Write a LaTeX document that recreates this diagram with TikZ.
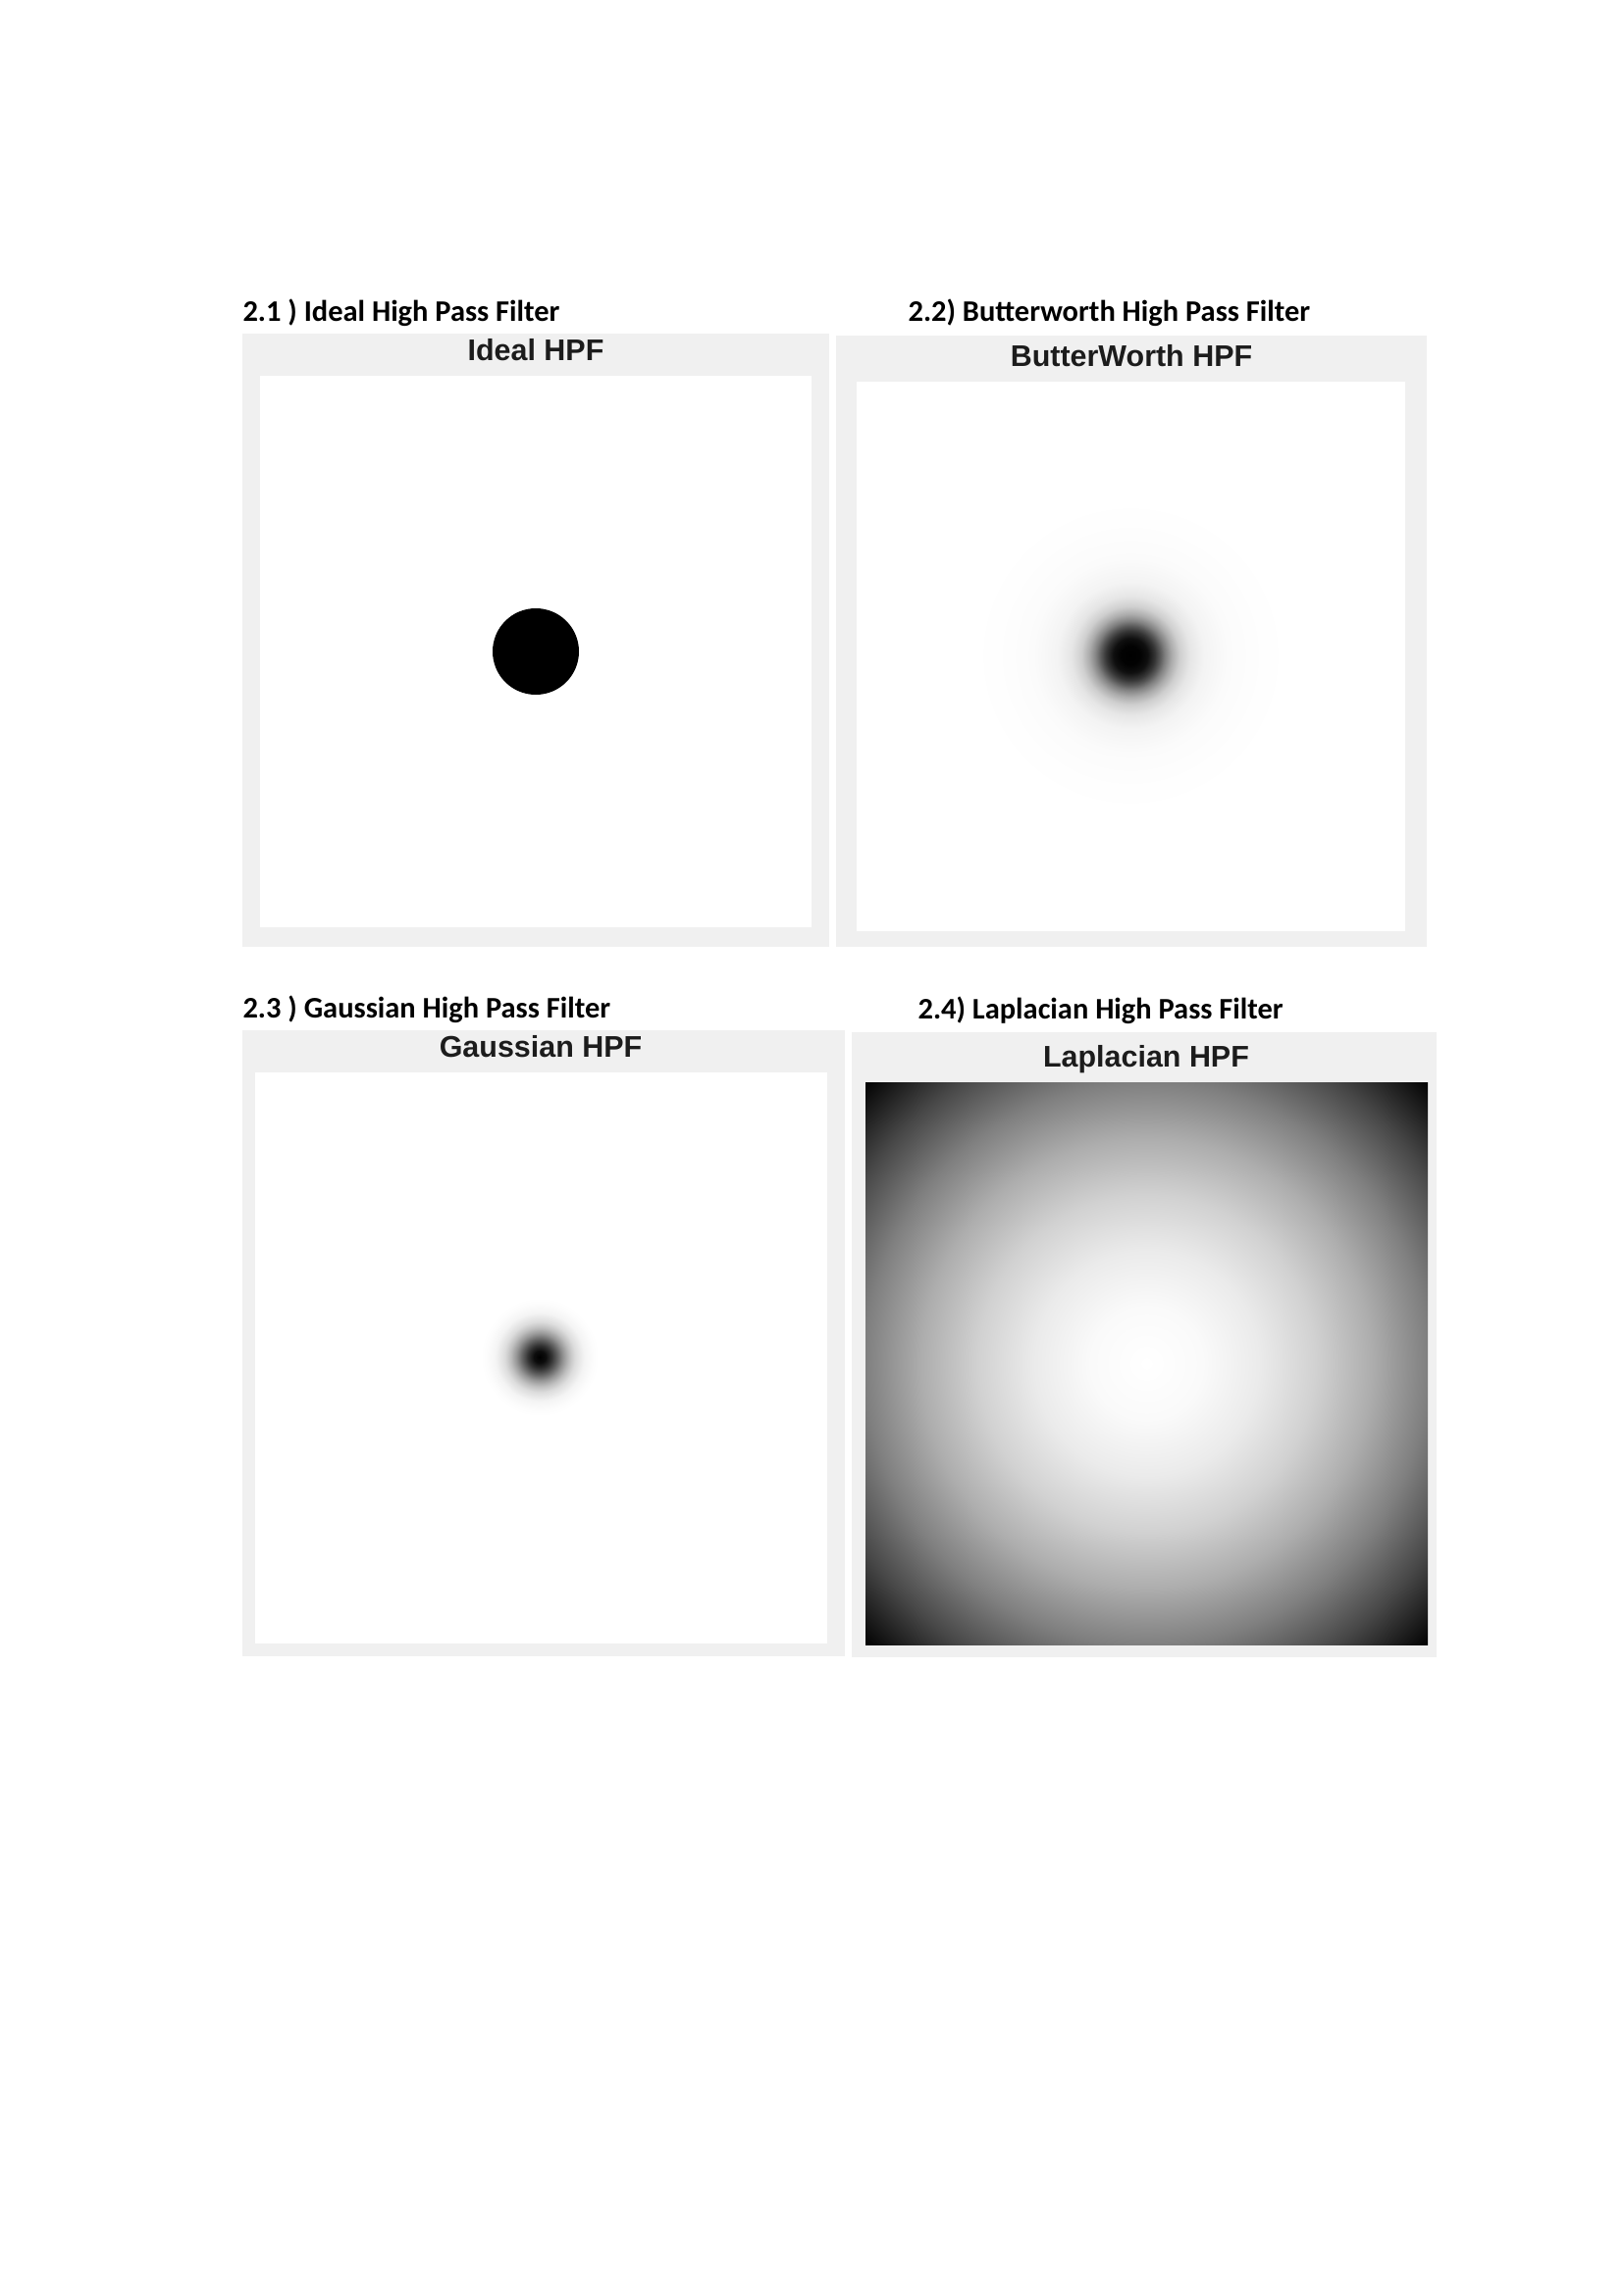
\documentclass[tikz,border=0pt]{standalone}
\usepackage{fontspec}
\newfontfamily\headfont{Carlito}
\newfontfamily\plotfont{Liberation Sans}
\usetikzlibrary{positioning}

\definecolor{panelgray}{RGB}{240,240,240}
\definecolor{titlegray}{RGB}{28,28,28}

% filter responses as radial shadings (25bp = half size of the shaded path)
\pgfdeclareradialshading{butterworthshade}{\pgfpoint{0bp}{0bp}}{%
  color(0bp)=(black); color(1.55bp)=(black!99); color(2.75bp)=(black!94);
  color(3.9bp)=(black!79); color(4.7bp)=(black!65); color(5.45bp)=(black!50);
  color(6.55bp)=(black!33); color(7.8bp)=(black!19); color(9.4bp)=(black!10);
  color(11.7bp)=(black!4.5); color(15.6bp)=(black!1.5); color(20.3bp)=(black!0.6);
  color(25bp)=(white); color(50bp)=(white)}
\pgfdeclareradialshading{gaussshade}{\pgfpoint{0bp}{0bp}}{%
  color(0bp)=(black); color(2.5bp)=(black!95); color(5bp)=(black!80);
  color(7.5bp)=(black!61); color(10bp)=(black!41); color(12.5bp)=(black!25);
  color(15bp)=(black!13.5); color(18.75bp)=(black!4.4); color(22.5bp)=(black!1.1);
  color(25bp)=(white); color(50bp)=(white)}
\pgfdeclareradialshading{laplaceshade}{\pgfpoint{0bp}{0bp}}{%
  color(0bp)=(white); color(5bp)=(black!2); color(10bp)=(black!8);
  color(15bp)=(black!18); color(20bp)=(black!32); color(25bp)=(black!50);
  color(30bp)=(black!72); color(35.5bp)=(black); color(50bp)=(black)}

\begin{document}
\begin{tikzpicture}[x=0.126965mm, y=-0.126965mm,
  heading/.style={anchor=base west, inner sep=0pt, font=\headfont\bfseries\fontsize{11}{13}\selectfont},
  plottitle/.style={anchor=base, inner sep=0pt, text=titlegray, font=\plotfont\bfseries\fontsize{11}{13}\selectfont},
  panel/.style={fill=panelgray},
  plotarea/.style={fill=white}
]
\useasboundingbox[fill=white] (0,0) rectangle (1654,2339);

% 2.1 ideal
\node[heading] (head1) at (247,327) {2.1 ) Ideal High Pass Filter};
\fill[panel] (247,340) rectangle (845,965);
\fill[plotarea] (265,383) rectangle (827,945);
\node[plottitle] (title1) at (546,367) {Ideal HPF};
\fill[black] (546,664) circle[radius=44];

% 2.2 butterworth
\node[heading] (head2) at (925,327) {2.2) Butterworth High Pass Filter};
\fill[panel] (852,342) rectangle (1454,965);
\fill[plotarea] (873,389) rectangle (1432,949);
\node[plottitle] (title2) at (1153,373) {ButterWorth HPF};
\shade[shading=butterworthshade] (1152,668) circle[radius=160];

% 2.3 gaussian
\node[heading] (head3) at (247,1037) {2.3 ) Gaussian High Pass Filter};
\fill[panel] (247,1050) rectangle (861,1688);
\fill[plotarea] (260,1093) rectangle (843,1675);
\node[plottitle] (title3) at (551,1077) {Gaussian HPF};
\shade[shading=gaussshade] (550,1383) circle[radius=60];

% 2.4 laplacian
\node[heading] (head4) at (935,1038) {2.4) Laplacian High Pass Filter};
\fill[panel] (868,1052) rectangle (1464,1689);
\node[plottitle] (title4) at (1168,1087) {Laplacian HPF};
\shade[shading=laplaceshade] (882,1103) rectangle (1455,1676);
\end{tikzpicture}
\end{document}
